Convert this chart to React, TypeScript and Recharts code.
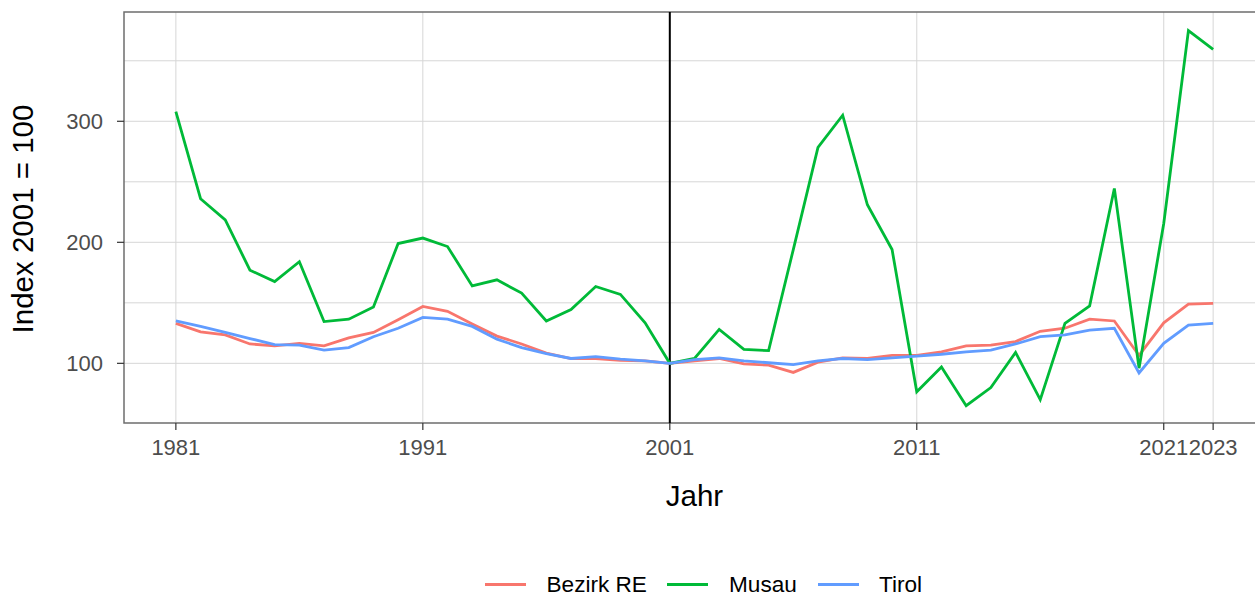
import React from 'react';
import { LineChart, Line, XAxis, YAxis, CartesianGrid, ReferenceLine, ReferenceArea, Label } from 'recharts';

const years = [
  1981, 1982, 1983, 1984, 1985, 1986, 1987, 1988, 1989, 1990,
  1991, 1992, 1993, 1994, 1995, 1996, 1997, 1998, 1999, 2000,
  2001, 2002, 2003, 2004, 2005, 2006, 2007, 2008, 2009, 2010,
  2011, 2012, 2013, 2014, 2015, 2016, 2017, 2018, 2019, 2020,
  2021, 2022, 2023,
];

const bezirkRE = [
  133, 126, 123.5, 116, 114.5, 116.5, 114.5, 121, 125.5, 136,
  147, 143, 132.5, 122.5, 116, 108.5, 104, 104, 102.5, 102,
  100, 102, 104, 99.5, 98.5, 92.5, 101, 104.5, 104, 106.5,
  106.5, 109.5, 114.5, 115, 118, 126.5, 129, 136.5, 135, 106.5,
  133.5, 149, 149.5,
];

const musau = [
  308, 236, 218.5, 177, 167.5, 184, 134.5, 136.5, 146.5, 199,
  203.5, 196.5, 164, 169, 158, 135, 144.5, 163.5, 157, 133.5,
  100, 104, 128, 111.5, 110.5, 194, 278.5, 305, 231, 194,
  76.5, 97, 65, 80, 109, 70, 133, 147.5, 244.5, 96,
  215.5, 375, 359.5,
];

const tirol = [
  135, 130.5, 125.5, 120.5, 115.5, 115, 111, 113, 122, 129,
  138, 136.5, 130.5, 120, 113, 108, 104, 105.5, 103.5, 102,
  100, 103, 104.5, 102, 100.5, 99, 102, 104, 103, 104.5,
  106, 107.5, 109.5, 111, 116, 122, 123.5, 127.5, 129, 92,
  116.5, 131.5, 133,
];

const xTicks = [1981, 1991, 2001, 2011, 2021, 2023];
const yTicks = [100, 200, 300];
const yGrid = [100, 150, 200, 250, 300, 350];
const seriesKeys = ['bezirk', 'musau', 'tirol'];
const seriesNames = ['Bezirk RE', 'Musau', 'Tirol'];
const seriesColors = ['#F8766D', '#00BA38', '#619CFF'];
const referenceYear = 2001;

const xDomain: [number, number] = [1978.9, 2025.1];
const yDomain: [number, number] = [50.7, 390.3];

const data = years.map((year, i) => ({
  year,
  bezirk: bezirkRE[i],
  musau: musau[i],
  tirol: tirol[i],
}));

const FONT = '"Liberation Sans", Arial, sans-serif';

// legend layout (pixels)
const legendKeyLeft = [485, 667, 818];
const legendTextLeft = [546.5, 729, 879];

const YTitle = () => (
  <text
    transform="translate(33, 219) rotate(-90)"
    textAnchor="middle"
    fontSize={29.5}
    fill="#000"
    fontFamily={FONT}
  >
    Index 2001 = 100
  </text>
);

const LegendBox = () => (
  <div style={{ position: 'absolute', left: 0, top: 0, fontFamily: FONT, fontSize: 22.6, color: '#000', whiteSpace: 'nowrap' }}>
    {seriesNames.map((name, i) => (
      <React.Fragment key={name}>
        <div
          style={{
            position: 'absolute',
            left: legendKeyLeft[i],
            top: 583,
            width: 41,
            height: 3,
            background: seriesColors[i],
          }}
        />
        <div style={{ position: 'absolute', left: legendTextLeft[i], top: 572, lineHeight: '26px' }}>{name}</div>
      </React.Fragment>
    ))}
  </div>
);

export default function App() {
  return (
    <div
      style={{
        position: 'absolute',
        left: 0,
        top: 0,
        width: 1255,
        height: 597,
        overflow: 'hidden',
        background: '#fff',
        fontFamily: FONT,
      }}
    >
      <LineChart
        width={1266}
        height={597}
        data={data}
        margin={{ top: 12, right: 1, bottom: 0, left: 0 }}
      >
        <CartesianGrid
          stroke="#d6d6d6"
          strokeWidth={1}
          horizontalValues={yGrid}
          verticalValues={xTicks}
        />
        <XAxis
          dataKey="year"
          type="number"
          domain={xDomain}
          ticks={xTicks}
          interval={0}
          allowDataOverflow
          height={174}
          tickSize={7}
          tickMargin={9}
          axisLine={false}
          tickLine={{ stroke: '#333333', strokeWidth: 1.2 }}
          tick={{ fill: '#4d4d4d', fontSize: 22, fontFamily: FONT }}
        >
          <Label value="Jahr" position="insideTop" offset={62} style={{ fontSize: 29.5, fill: '#000', fontFamily: FONT }} />
        </XAxis>
        <YAxis
          type="number"
          domain={yDomain}
          ticks={yTicks}
          interval={0}
          allowDataOverflow
          width={124}
          tickSize={7}
          tickMargin={14}
          axisLine={false}
          tickLine={{ stroke: '#333333', strokeWidth: 1.2 }}
          tick={{ fill: '#4d4d4d', fontSize: 22, fontFamily: FONT }}
        >
          <Label content={() => <YTitle />} />
        </YAxis>
        <ReferenceArea
          x1={xDomain[0]}
          x2={xDomain[1]}
          y1={yDomain[0]}
          y2={yDomain[1]}
          fill="none"
          fillOpacity={0}
          stroke="#6e6e6e"
          strokeWidth={1.5}
          ifOverflow="visible"
        />
        <ReferenceLine x={referenceYear} stroke="#000" strokeWidth={2} />
        {seriesKeys.map((k, i) => (
          <Line
            key={k}
            type="linear"
            dataKey={k}
            name={seriesNames[i]}
            stroke={seriesColors[i]}
            strokeWidth={2.8}
            dot={false}
            activeDot={false}
            isAnimationActive={false}
          />
        ))}
      </LineChart>
      <LegendBox />
    </div>
  );
}
